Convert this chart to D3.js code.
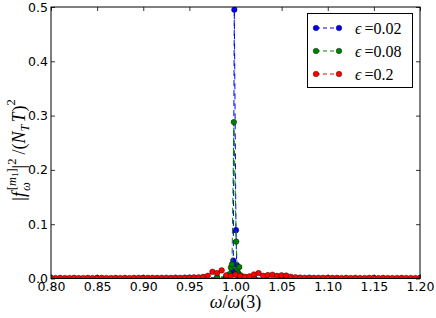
<!DOCTYPE html>
<html>
<head>
<meta charset="utf-8">
<script src="https://cdn.jsdelivr.net/npm/d3@7/dist/d3.min.js"></script>
<style>
  body { margin: 0; background: #fff; }
  svg { display: block; }
</style>
</head>
<body>
<div id="chart"></div>
<script>
// tick positions and labels
var xTicks = [0.80, 0.85, 0.90, 0.95, 1.00, 1.05, 1.10, 1.15, 1.20];
var xTickLabels = ["0.80", "0.85", "0.90", "0.95", "1.00", "1.05", "1.10", "1.15", "1.20"];
var yTicks = [0.0, 0.1, 0.2, 0.3, 0.4, 0.5];
var yTickLabels = ["0.0", "0.1", "0.2", "0.3", "0.4", "0.5"];

var seriesNames = ["0.02", "0.08", "0.2"];
var seriesColors = ["#0000ff", "#008000", "#ff0000"];

// eps = 0.02
var blueOmega = [0.80, 0.85, 0.90, 0.95, 0.98, 0.99, 0.994, 0.9955, 0.9966, 0.9976, 0.9987,
    1.0005, 1.0013, 1.0024, 1.0035, 1.006, 1.01, 1.02, 1.05, 1.10, 1.15, 1.20];
var blueValues = [0.0005, 0.0005, 0.0005, 0.0006, 0.001, 0.002, 0.004, 0.008, 0.015, 0.033, 0.495,
    0.089, 0.025, 0.010, 0.005, 0.003, 0.002, 0.001, 0.0006, 0.0005, 0.0005, 0.0005];

// eps = 0.08
var greenOmega = [0.80, 0.85, 0.90, 0.95, 0.98, 0.99, 0.9935, 0.995, 0.9962, 0.9982, 1.0008,
    1.0019, 1.003, 1.0041, 1.0055, 1.008, 1.01, 1.02, 1.05, 1.10, 1.15, 1.20];
var greenValues = [0.0005, 0.0005, 0.0006, 0.0008, 0.002, 0.004, 0.008, 0.020, 0.026, 0.288, 0.068,
    0.018, 0.009, 0.021, 0.006, 0.003, 0.002, 0.0015, 0.0008, 0.0005, 0.0005, 0.0005];

// eps = 0.2
var redOmega = [0.800, 0.805, 0.810, 0.815, 0.820, 0.825, 0.830, 0.835, 0.840, 0.845,
    0.850, 0.855, 0.860, 0.865, 0.870, 0.875, 0.880, 0.885, 0.890, 0.895,
    0.900, 0.905, 0.910, 0.915, 0.920, 0.925, 0.930, 0.935, 0.940, 0.945,
    0.950, 0.955, 0.960, 0.965, 0.970, 0.975, 0.980, 0.985, 0.990, 0.995,
    1.000, 1.005, 1.010, 1.015, 1.020, 1.025, 1.030, 1.035, 1.040, 1.045,
    1.050, 1.055, 1.060, 1.065, 1.070, 1.075, 1.080, 1.085, 1.090, 1.095,
    1.100, 1.105, 1.110, 1.115, 1.120, 1.125, 1.130, 1.135, 1.140, 1.145,
    1.150, 1.155, 1.160, 1.165, 1.170, 1.175, 1.180, 1.185, 1.190, 1.195, 1.200];
var redValues = [0.0010, 0.0008, 0.0011, 0.0009, 0.0010, 0.0012, 0.0009, 0.0010, 0.0011, 0.0009,
    0.0010, 0.0012, 0.0010, 0.0009, 0.0011, 0.0010, 0.0012, 0.0010, 0.0011, 0.0013,
    0.0010, 0.0012, 0.0014, 0.0011, 0.0013, 0.0015, 0.0012, 0.0016, 0.0014, 0.0018,
    0.0016, 0.0020, 0.0022, 0.0030, 0.0050, 0.0125, 0.0100, 0.0150, 0.0060, 0.0045,
    0.0070, 0.0050, 0.0032, 0.0040, 0.0075, 0.0100, 0.0050, 0.0062, 0.0070, 0.0050,
    0.0060, 0.0055, 0.0032, 0.0022, 0.0018, 0.0015, 0.0016, 0.0013, 0.0014, 0.0012,
    0.0013, 0.0011, 0.0012, 0.0010, 0.0011, 0.0010, 0.0012, 0.0009, 0.0010, 0.0011,
    0.0010, 0.0009, 0.0011, 0.0010, 0.0009, 0.0010, 0.0011, 0.0009, 0.0010, 0.0009, 0.0010];

var W = 436, H = 318;
var margin = {left: 51, right: 16, top: 7, bottom: 39.5};
var plotW = W - margin.left - margin.right;
var plotH = H - margin.top - margin.bottom;

var svg = d3.select("#chart").append("svg")
    .attr("width", W)
    .attr("height", H);

var x = d3.scaleLinear().domain([0.80, 1.20]).range([0, plotW]);
var y = d3.scaleLinear().domain([0, 0.5]).range([plotH, 0]);

var g = svg.append("g")
    .attr("transform", "translate(" + margin.left + "," + margin.top + ")");

g.append("clipPath").attr("id", "plotclip")
    .append("rect").attr("width", plotW).attr("height", plotH);

var tickFont = "DejaVu Sans, sans-serif";

function styleAxis(sel) {
    sel.select(".domain").remove();
    sel.selectAll(".tick line").attr("stroke", "#000").attr("stroke-width", 0.8);
    sel.selectAll("text").attr("font-family", tickFont).attr("font-size", 12.5).attr("fill", "#000");
}

g.append("g")
    .attr("transform", "translate(0," + plotH + ")")
    .call(d3.axisBottom(x).tickValues(xTicks)
        .tickFormat(function(d, i) { return xTickLabels[i]; })
        .tickSizeInner(-4).tickSizeOuter(0).tickPadding(4))
    .call(styleAxis);

g.append("g")
    .call(d3.axisTop(x).tickValues(xTicks).tickFormat("")
        .tickSizeInner(-4).tickSizeOuter(0))
    .call(styleAxis);

g.append("g")
    .call(d3.axisLeft(y).tickValues(yTicks)
        .tickFormat(function(d, i) { return yTickLabels[i]; })
        .tickSizeInner(-4).tickSizeOuter(0).tickPadding(3))
    .call(styleAxis);

g.append("g")
    .attr("transform", "translate(" + plotW + ",0)")
    .call(d3.axisRight(y).tickValues(yTicks).tickFormat("")
        .tickSizeInner(-4).tickSizeOuter(0))
    .call(styleAxis);

var series = [
    {omega: blueOmega, values: blueValues},
    {omega: greenOmega, values: greenValues},
    {omega: redOmega, values: redValues}
];

var line = d3.line()
    .x(function(d) { return x(d[0]); })
    .y(function(d) { return y(d[1]); });

var plot = g.append("g").attr("clip-path", "url(#plotclip)");

series.forEach(function(s, k) {
    var pts = s.omega.map(function(o, i) { return [o, s.values[i]]; });
    plot.append("path")
        .attr("d", line(pts))
        .attr("fill", "none")
        .attr("stroke", seriesColors[k])
        .attr("stroke-width", 1)
        .attr("stroke-dasharray", "6,4");
    plot.selectAll(".dot" + k)
        .data(pts)
        .enter().append("circle")
        .attr("cx", function(d) { return x(d[0]); })
        .attr("cy", function(d) { return y(d[1]); })
        .attr("r", 2.8)
        .attr("fill", seriesColors[k])
        .attr("stroke", "#000")
        .attr("stroke-width", 0.4);
});

// frame
g.append("rect")
    .attr("width", plotW).attr("height", plotH)
    .attr("fill", "none").attr("stroke", "#000").attr("stroke-width", 1);

// legend
var mathFont = "Liberation Serif, DejaVu Serif, serif";
var leg = svg.append("g");
leg.append("rect")
    .attr("x", 307.5).attr("y", 13.5).attr("width", 105).attr("height", 74)
    .attr("fill", "#fff").attr("stroke", "#000").attr("stroke-width", 1);

seriesNames.forEach(function(name, k) {
    var ry = 28 + k * 23;
    leg.append("line")
        .attr("x1", 316).attr("x2", 339).attr("y1", ry).attr("y2", ry)
        .attr("stroke", seriesColors[k]).attr("stroke-width", 1)
        .attr("stroke-dasharray", "4,3");
    [316, 339].forEach(function(cx) {
        leg.append("circle")
            .attr("cx", cx).attr("cy", ry).attr("r", 2.8)
            .attr("fill", seriesColors[k]).attr("stroke", "#000").attr("stroke-width", 0.4);
    });
    var t = leg.append("text")
        .attr("x", 355).attr("y", ry + 5.5)
        .attr("font-family", mathFont).attr("font-size", 16).attr("fill", "#000");
    t.append("tspan").attr("font-style", "italic").text("\u03f5");
    t.append("tspan").attr("dx", 3).text("=" + name);
});

// x label
var xl = svg.append("text")
    .attr("x", margin.left + plotW / 2).attr("y", 308)
    .attr("text-anchor", "middle")
    .attr("font-family", mathFont).attr("font-size", 18).attr("fill", "#000");
xl.append("tspan").attr("font-style", "italic").text("\u03c9");
xl.append("tspan").text("/");
xl.append("tspan").attr("font-style", "italic").text("\u03c9");
xl.append("tspan").text("(3)");

// y label
var yl = svg.append("text")
    .attr("transform", "translate(25,150) rotate(-90)")
    .attr("text-anchor", "middle")
    .attr("font-family", mathFont).attr("font-size", 18).attr("fill", "#000");
yl.append("tspan").text("|");
yl.append("tspan").attr("font-style", "italic").text("f");
yl.append("tspan").attr("font-style", "italic").attr("font-size", 12.5).attr("dx", 1).attr("dy", 5).text("\u03c9");
yl.append("tspan").attr("font-size", 12.5).attr("dx", -8).attr("dy", -14).text("[");
yl.append("tspan").attr("font-size", 12.5).attr("font-style", "italic").text("m");
yl.append("tspan").attr("font-size", 9).attr("dy", 2).text("1");
yl.append("tspan").attr("font-size", 12.5).attr("dy", -2).text("]");
yl.append("tspan").attr("dy", 9).text("|");
yl.append("tspan").attr("font-size", 12.5).attr("dy", -9).text("2");
yl.append("tspan").attr("dx", 4).attr("dy", 9).text("/(");
yl.append("tspan").attr("font-style", "italic").text("N");
yl.append("tspan").attr("font-style", "italic").attr("font-size", 12.5).attr("dy", 4).text("T");
yl.append("tspan").attr("font-style", "italic").attr("dx", 2).attr("dy", -4).text("T");
yl.append("tspan").attr("dx", 1).text(")");
yl.append("tspan").attr("font-size", 12.5).attr("dy", -10).text("2");
</script>
</body>
</html>
